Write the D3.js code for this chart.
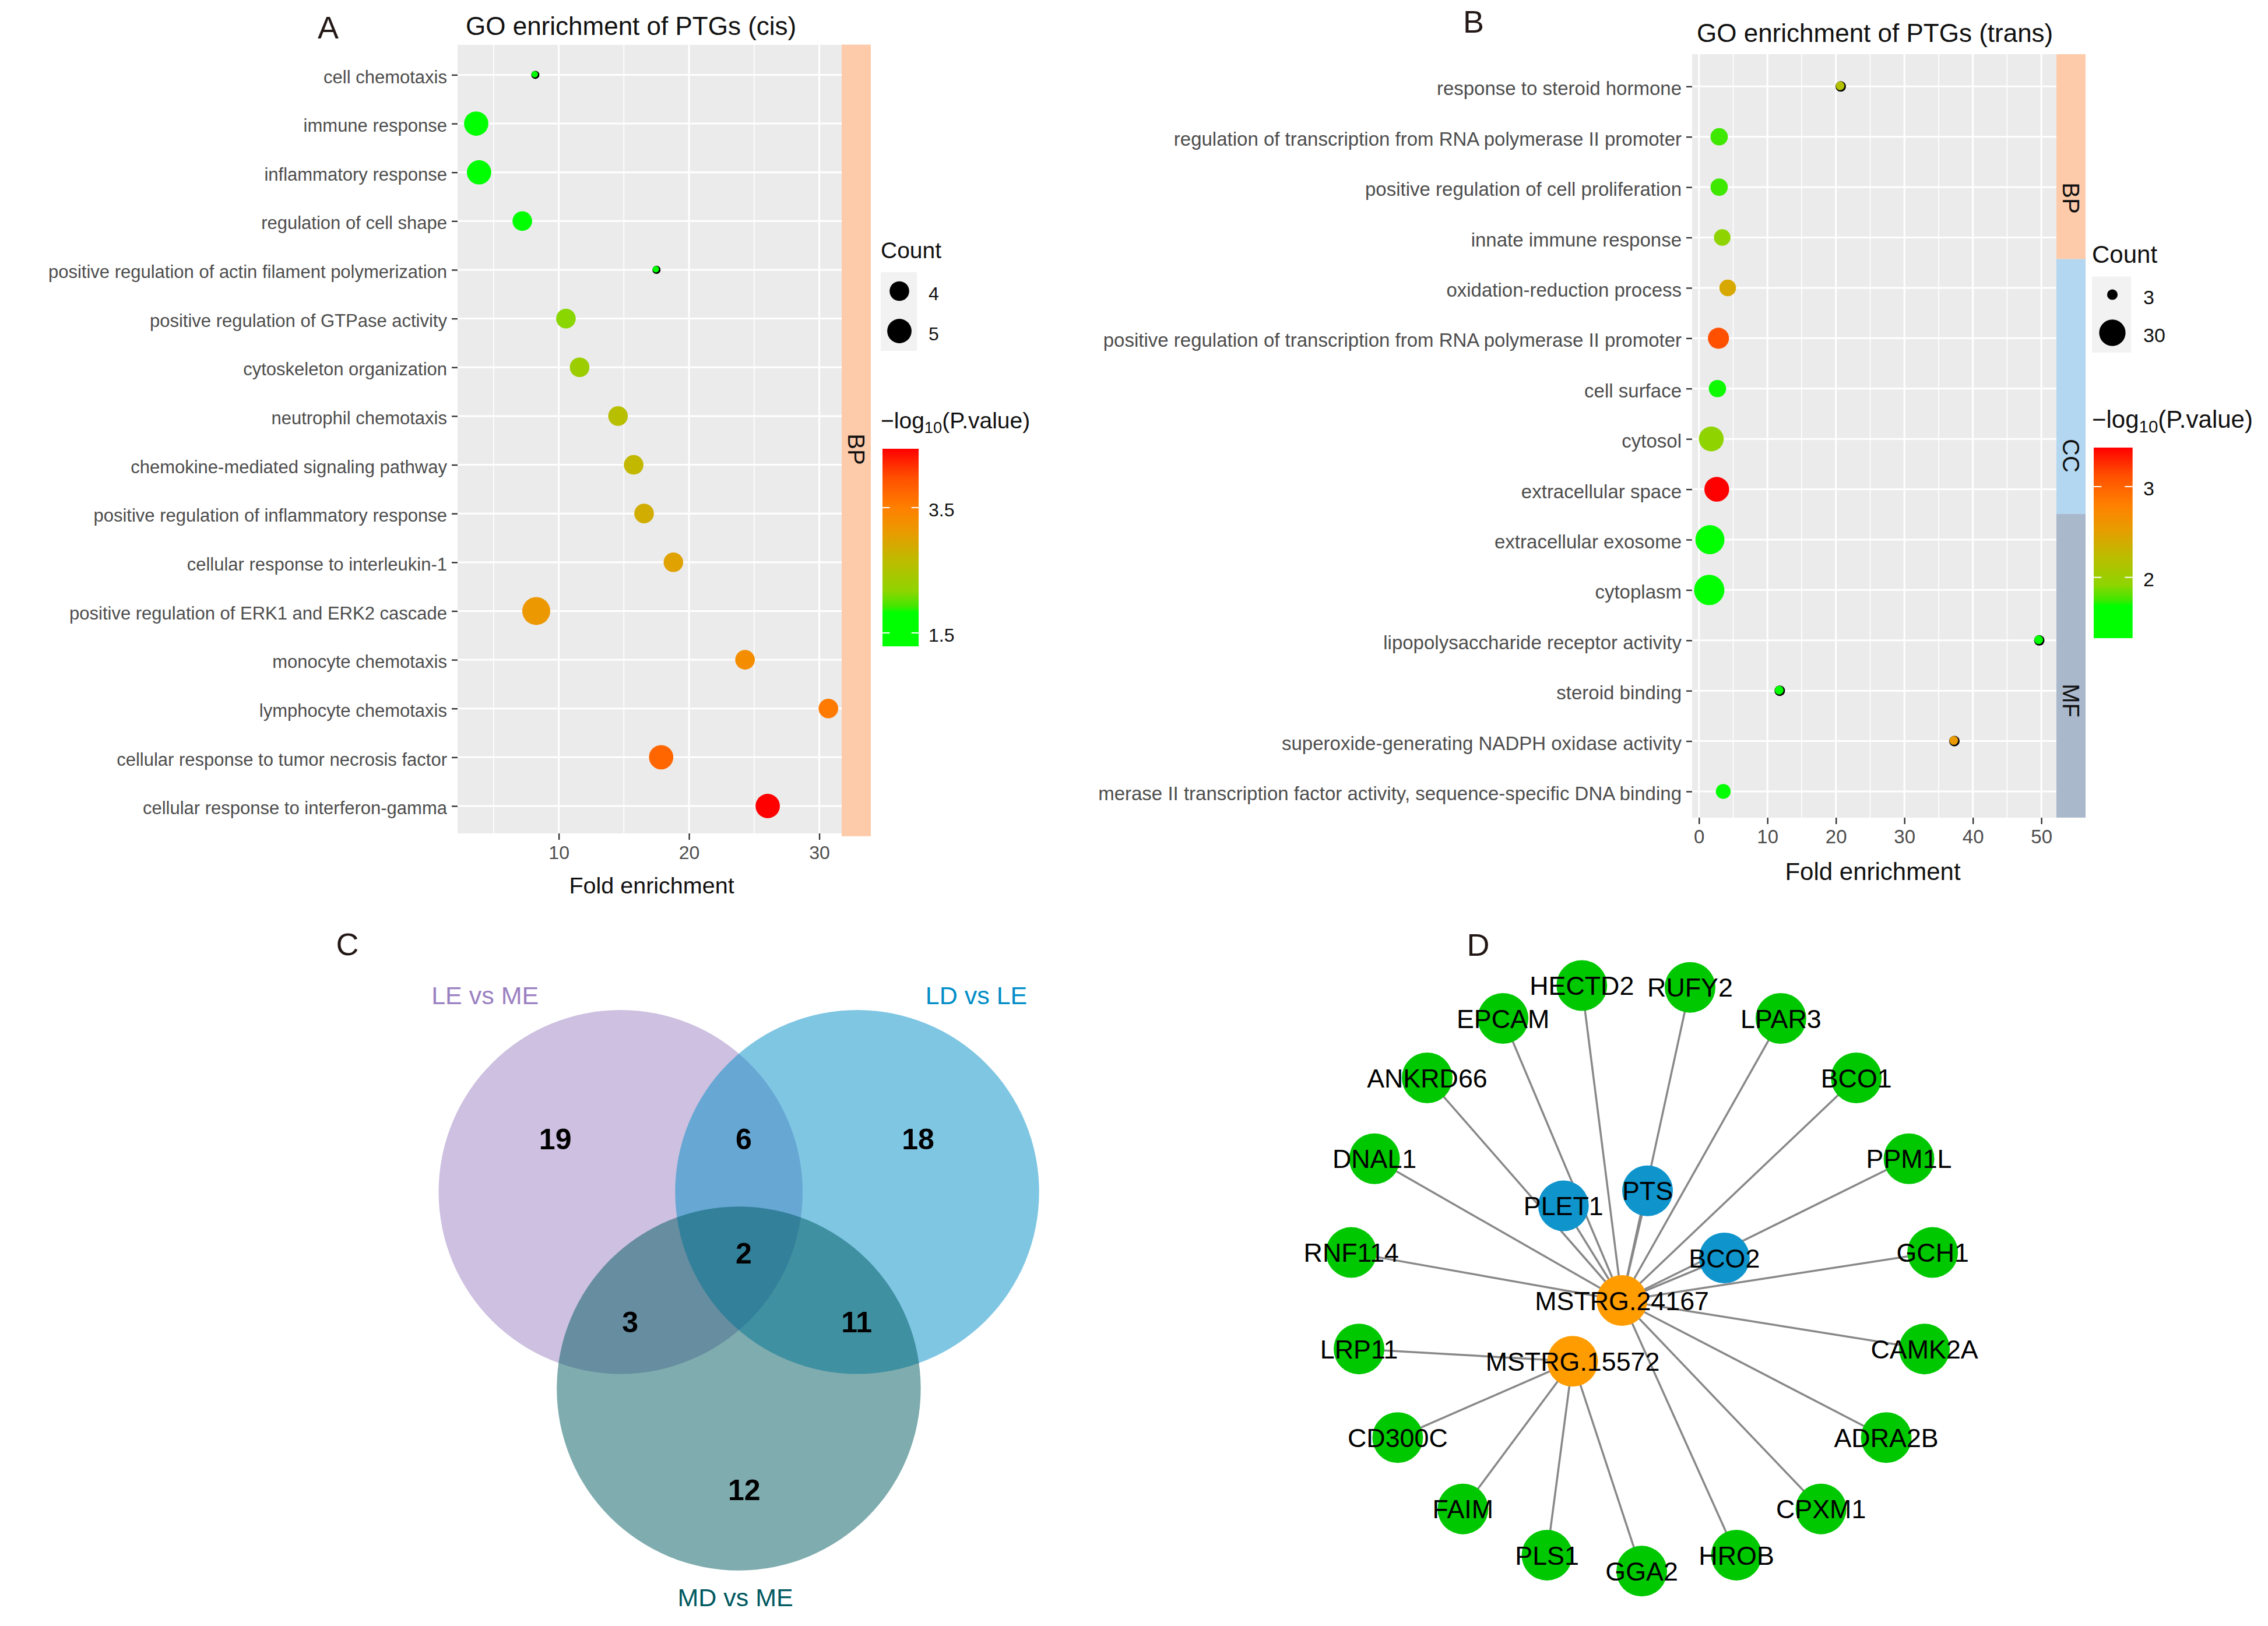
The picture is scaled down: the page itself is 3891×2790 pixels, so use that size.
<!DOCTYPE html>
<html lang="en">
<head>
<meta charset="UTF-8">
<title>GO enrichment of PTGs</title>
<script src="https://d3js.org/d3.v7.min.js"></script>
<style>
  html, body { margin: 0; background: #fff; }
  text { font-family: "Liberation Sans", Arial, sans-serif; }
</style>
</head>
<body>
<div id="chart"></div>
<script>
// panel A
const termsA = ["cell chemotaxis", "immune response", "inflammatory response", "regulation of cell shape",
  "positive regulation of actin filament polymerization", "positive regulation of GTPase activity",
  "cytoskeleton organization", "neutrophil chemotaxis", "chemokine-mediated signaling pathway",
  "positive regulation of inflammatory response", "cellular response to interleukin-1",
  "positive regulation of ERK1 and ERK2 cascade", "monocyte chemotaxis", "lymphocyte chemotaxis",
  "cellular response to tumor necrosis factor", "cellular response to interferon-gamma"];
const foldA = [8.2, 3.66, 3.88, 7.2, 17.5, 10.55, 11.6, 14.55, 15.75, 16.55, 18.8, 8.27, 24.3, 30.7, 17.86, 26.04];
const countA = [3, 5, 5, 4, 3, 4, 4, 4, 4, 4, 4, 6, 4, 4, 5, 5];
const pvalA = [1.7, 1.4, 1.4, 1.75, 1.8, 2.15, 2.3, 2.6, 2.7, 2.85, 3.0, 3.15, 3.3, 3.55, 3.75, 4.44];
const stripsA = [["BP", -0.62, 15.62, 771]];

// panel B
const termsB = ["response to steroid hormone", "regulation of transcription from RNA polymerase II promoter",
  "positive regulation of cell proliferation", "innate immune response", "oxidation-reduction process",
  "positive regulation of transcription from RNA polymerase II promoter", "cell surface", "cytosol",
  "extracellular space", "extracellular exosome", "cytoplasm", "lipopolysaccharide receptor activity",
  "steroid binding", "superoxide-generating NADPH oxidase activity",
  "merase II transcription factor activity, sequence-specific DNA binding"];
const foldB = [20.7, 2.95, 2.95, 3.4, 4.2, 2.85, 2.7, 1.8, 2.6, 1.6, 1.5, 49.7, 11.8, 37.3, 3.55];
const countB = [3, 8, 8, 7, 7, 15, 8, 25, 25, 40, 45, 3, 3, 3, 5];
const pvalB = [2.17, 1.75, 1.75, 1.92, 2.42, 3.12, 1.7, 1.92, 3.43, 1.33, 1.33, 1.5, 1.6, 2.55, 1.6];
const stripsB = [["BP", -0.64, 3.43, 340], ["CC", 3.43, 8.49, 782], ["MF", 8.49, 14.52, 1202]];

// panel C, positions in picture units of a 1568 x 1568 box
const vennNames = ["LE vs ME", "LD vs LE", "MD vs ME"];
const vennX = [632.5, 1087, 859.5];
const vennY = [618.5, 618.5, 1048.5];
const vennR = 398;
const vennLabelX = [372, 1316, 853];
const vennLabelY = [188, 188, 1505];
const vennCounts = [19, 6, 18, 2, 3, 11, 12];
const vennCountX = [507, 869, 1204, 869, 651, 1086, 870];
const vennCountY = [502, 502, 502, 752, 902, 902, 1270];

// panel D, positions in picture units of a 1568 x 1568 box
const geneNames = ["HECTD2", "RUFY2", "EPCAM", "LPAR3", "ANKRD66", "BCO1", "DNAL1", "PPM1L", "RNF114", "GCH1", "LRP11",
  "CAMK2A", "CD300C", "ADRA2B", "FAIM", "CPXM1", "PLS1", "HROB", "GGA2", "PLET1", "PTS", "BCO2", "MSTRG.24167", "MSTRG.15572"];
const geneX = [680, 904, 517, 1092, 360, 1248, 251, 1357, 203, 1406, 219, 1389, 299, 1310, 434, 1175, 608, 1000, 804, 642, 816, 975, 763, 661];
const geneY = [167, 171, 239, 239, 369, 369, 546, 546, 751, 751, 962, 962, 1156, 1156, 1312, 1312, 1413, 1413, 1448, 649, 616, 763, 856, 989];
const geneGroup = ["g", "g", "g", "g", "g", "g", "g", "g", "g", "g", "g", "g", "g", "g", "g", "g", "g", "g", "g", "b", "b", "b", "o", "o"];
const edgesHub1 = ["HECTD2", "RUFY2", "EPCAM", "LPAR3", "ANKRD66", "BCO1", "DNAL1", "PPM1L", "RNF114", "GCH1", "CAMK2A",
  "ADRA2B", "CPXM1", "HROB", "PLET1", "PTS", "BCO2"];
const edgesHub2 = ["LRP11", "CD300C", "FAIM", "PLS1", "GGA2"];

const gradT = [0, 0.17, 0.2, 0.28, 0.43, 0.58, 0.7, 0.855, 1];
const gradC = ["#00ff00", "#00ff00", "#3fe800", "#8fd400", "#bcbc00", "#ea9a00", "#ff8000", "#ff4f00", "#ff0000"];

const svg = d3.select("#chart").append("svg")
  .attr("width", 3891).attr("height", 2790).attr("viewBox", "0 0 3891 2790")
  .style("display", "block");
const defs = svg.append("defs");

function addLetter(s, x, y) {
  svg.append("text").attr("x", x).attr("y", y).attr("text-anchor", "middle").attr("dy", "0.36em")
    .attr("font-size", 54).attr("fill", "#231815").text(s);
}

function dotPanel(o) {
  const g = svg.append("g");
  const x = d3.scaleLinear().domain(o.xDomain).range([o.left, o.right]);
  const y = d3.scalePoint().domain(o.terms).range(o.rowRange);
  const rowPos = d3.scaleLinear().domain([0, o.terms.length - 1]).range(o.rowRange);
  const color = d3.scaleLinear().domain(gradT.map(t => o.pLo + t * (o.pHi - o.pLo))).range(gradC);
  const size = d3.scaleSqrt().domain(o.sizeDomain).range(o.sizeRange);
  const cmin = d3.min(o.count);

  g.append("rect").attr("x", o.left).attr("y", o.top).attr("width", o.right - o.left).attr("height", o.bottom - o.top)
    .attr("fill", "#ebebeb");
  g.selectAll(".minor").data(o.minor).join("line")
    .attr("x1", d => x(d)).attr("x2", d => x(d)).attr("y1", o.top).attr("y2", o.bottom)
    .attr("stroke", "#fff").attr("stroke-width", 1.6);
  g.selectAll(".vmajor").data(o.xTicks).join("line")
    .attr("x1", d => x(d)).attr("x2", d => x(d)).attr("y1", o.top).attr("y2", o.bottom)
    .attr("stroke", "#fff").attr("stroke-width", 3);
  g.selectAll(".hmajor").data(o.terms).join("line")
    .attr("x1", o.left).attr("x2", o.right).attr("y1", d => y(d)).attr("y2", d => y(d))
    .attr("stroke", "#fff").attr("stroke-width", 3);

  // strips on the right of the panel
  g.selectAll(".strip").data(o.strips).join("rect")
    .attr("x", o.right).attr("width", o.stripW)
    .attr("y", d => rowPos(d[1])).attr("height", d => rowPos(d[2]) - rowPos(d[1]))
    .attr("fill", d => ({BP: "#fdcbaa", CC: "#b3d7f0", MF: "#aab8cc"})[d[0]]);
  g.selectAll(".stripLab").data(o.strips).join("text")
    .attr("transform", d => `translate(${o.right + o.stripW / 2},${d[3]}) rotate(90)`)
    .attr("text-anchor", "middle").attr("dy", "0.36em").attr("font-size", 40).attr("fill", "#111")
    .text(d => d[0]);

  const xAxis = g.append("g").attr("transform", `translate(0,${o.bottom})`)
    .call(d3.axisBottom(x).tickValues(o.xTicks).tickSize(11).tickPadding(10));
  const yAxis = g.append("g").attr("transform", `translate(${o.left},0)`)
    .call(d3.axisLeft(y).tickSize(10).tickPadding(o.labPad));
  xAxis.select(".domain").remove();
  yAxis.select(".domain").remove();
  xAxis.selectAll("line").attr("stroke", "#333").attr("stroke-width", 2.4);
  yAxis.selectAll("line").attr("stroke", "#333").attr("stroke-width", 2.4);
  xAxis.selectAll("text").attr("font-size", o.tickFont).attr("fill", "#4d4d4d").attr("font-family", null);
  yAxis.selectAll("text").attr("font-size", o.labFont).attr("fill", "#4d4d4d").attr("font-family", null).attr("dy", "0.44em");

  const rows = o.terms.map((t, i) => ({t, f: o.fold[i], c: o.count[i], p: o.pval[i]}));
  // the smallest dots show a black dot just behind them
  g.selectAll(".back").data(rows.filter(d => d.c === cmin)).join("circle")
    .attr("cx", d => x(d.f)).attr("cy", d => y(d.t)).attr("r", d => size(d.c - cmin))
    .attr("fill", "#000");
  g.selectAll(".dot").data(rows).join("circle")
    .attr("cx", d => x(d.f) - (d.c === cmin ? 1 : 0)).attr("cy", d => y(d.t) - (d.c === cmin ? 1 : 0))
    .attr("r", d => size(d.c - cmin) - (d.c === cmin ? 1.5 : 0))
    .attr("fill", d => color(d.p));

  g.append("text").attr("x", o.titleX).attr("y", o.titleY).attr("dy", "0.36em").attr("font-size", o.titleFont).attr("fill", "#111").text(o.title);
  g.append("text").attr("x", o.xLabX).attr("y", o.xLabY).attr("text-anchor", "middle").attr("dy", "0.36em")
    .attr("font-size", o.xLabFont).attr("fill", "#111").text("Fold enrichment");

  // size legend
  const L = o.legend;
  g.append("text").attr("x", L.x).attr("y", L.countY).attr("font-size", L.titleFont).attr("fill", "#111").text("Count");
  g.append("rect").attr("x", L.x).attr("y", L.keyTop).attr("width", L.keyW).attr("height", L.keyBottom - L.keyTop).attr("fill", "#f2f2f2");
  L.keys.forEach(k => {
    g.append("circle").attr("cx", L.keyX).attr("cy", k.y).attr("r", size(k.c - cmin)).attr("fill", "#000");
    g.append("text").attr("x", L.labX).attr("y", k.y + 4).attr("dy", "0.36em").attr("font-size", L.labFont).attr("fill", "#111").text(k.c);
  });

  // colour bar
  const head = g.append("text").attr("x", L.x).attr("y", L.headY).attr("font-size", L.titleFont).attr("fill", "#111");
  head.append("tspan").text("\u2212log");
  head.append("tspan").attr("font-size", L.titleFont * 0.7).attr("dy", L.titleFont * 0.2).text("10");
  head.append("tspan").attr("dy", -L.titleFont * 0.2).text("(P.value)");

  const gradId = "grad" + o.id;
  defs.append("linearGradient").attr("id", gradId).attr("x1", 0).attr("x2", 0).attr("y1", 1).attr("y2", 0)
    .selectAll("stop").data(gradT).join("stop")
    .attr("offset", d => d).attr("stop-color", (d, i) => gradC[i]);
  const barY = d3.scaleLinear().domain([o.pLo, o.pHi]).range([L.barBottom, L.barTop]);
  g.append("rect").attr("x", L.barX).attr("y", L.barTop).attr("width", L.barW).attr("height", L.barBottom - L.barTop)
    .attr("fill", `url(#${gradId})`);
  const tickLen = L.barW / 5;
  L.ticks.forEach(v => {
    [[L.barX, L.barX + tickLen], [L.barX + L.barW - tickLen, L.barX + L.barW]].forEach(e => {
      g.append("line").attr("x1", e[0]).attr("x2", e[1]).attr("y1", barY(v)).attr("y2", barY(v))
        .attr("stroke", "#fff").attr("stroke-width", 2);
    });
    g.append("text").attr("x", L.labX).attr("y", barY(v) + 3).attr("dy", "0.36em").attr("font-size", L.labFont).attr("fill", "#111").text(v);
  });
}

dotPanel({
  id: "A", terms: termsA, fold: foldA, count: countA, pval: pvalA, strips: stripsA,
  left: 785, right: 1444, top: 77, bottom: 1430, stripW: 50, rowRange: [128.4, 1383],
  xDomain: [2.23, 31.72], xTicks: [10, 20, 30], minor: [5, 15, 25],
  pLo: 1.286, pHi: 4.44, sizeDomain: [0, 3], sizeRange: [7, 24],
  labFont: 31, labPad: 8, tickFont: 32, title: "GO enrichment of PTGs (cis)", titleX: 799, titleY: 44, titleFont: 44,
  xLabX: 1118, xLabY: 1519, xLabFont: 39.5,
  legend: {
    x: 1511, countY: 443, titleFont: 39, keyTop: 467, keyBottom: 602, keyW: 62, keyX: 1543,
    keys: [{c: 4, y: 499.5}, {c: 5, y: 568}], labX: 1593, labFont: 32,
    headY: 735, barX: 1514, barW: 62, barTop: 770, barBottom: 1109, ticks: [1.5, 3.5]
  }
});

dotPanel({
  id: "B", terms: termsB, fold: foldB, count: countB, pval: pvalB, strips: stripsB,
  left: 2903, right: 3528, top: 93, bottom: 1403, stripW: 50, rowRange: [148.3, 1358],
  xDomain: [-1, 52.2], xTicks: [0, 10, 20, 30, 40, 50], minor: [5, 15, 25, 35, 45],
  pLo: 1.33, pHi: 3.43, sizeDomain: [0, 42], sizeRange: [9, 26],
  labFont: 33, labPad: 8, tickFont: 33, title: "GO enrichment of PTGs (trans)", titleX: 2911, titleY: 56, titleFont: 44,
  xLabX: 3213, xLabY: 1495, xLabFont: 42,
  legend: {
    x: 3589, countY: 451, titleFont: 42, keyTop: 474.5, keyBottom: 605, keyW: 67, keyX: 3624,
    keys: [{c: 3, y: 505.6}, {c: 30, y: 571}], labX: 3677, labFont: 34,
    headY: 734, barX: 3592, barW: 66.7, barTop: 768, barBottom: 1095, ticks: [2, 3]
  }
});

addLetter("A", 563, 47);
addLetter("B", 2528, 37);
addLetter("C", 596, 1620);
addLetter("D", 2536, 1621);

// Venn
const vx = d3.scaleLinear().domain([0, 1568]).range([500, 1900]);
const vy = d3.scaleLinear().domain([0, 1568]).range([1560, 2790]);
const vennFill = ["#9b81c1", "#008dc7", "#00595f"];
const vg = svg.append("g");
vg.selectAll("circle").data(vennNames).join("circle")
  .attr("cx", (d, i) => vx(vennX[i])).attr("cy", (d, i) => vy(vennY[i]))
  .attr("r", vy(vennR) - vy(0)).attr("fill", (d, i) => vennFill[i]).attr("fill-opacity", 0.5);
vg.selectAll(".lab").data(vennNames).join("text")
  .attr("x", (d, i) => vx(vennLabelX[i])).attr("y", (d, i) => vy(vennLabelY[i])).attr("dy", "0.36em")
  .attr("text-anchor", "middle").attr("font-size", 43).attr("fill", (d, i) => vennFill[i]).text(d => d);
vg.selectAll(".num").data(vennCounts).join("text")
  .attr("x", (d, i) => vx(vennCountX[i])).attr("y", (d, i) => vy(vennCountY[i])).attr("dy", "0.36em")
  .attr("text-anchor", "middle").attr("font-size", 50).attr("font-weight", "bold").attr("fill", "#000").text(d => d);

// network
const nx = d3.scaleLinear().domain([0, 1568]).range([2150, 3450]);
const ny = d3.scaleLinear().domain([0, 1568]).range([1560, 2790]);
const nodes = geneNames.map((name, i) => ({name, x: nx(geneX[i]), y: ny(geneY[i]), group: geneGroup[i]}));
const nodeBy = new Map(nodes.map(d => [d.name, d]));
const edges = edgesHub1.map(n => ["MSTRG.24167", n]).concat(edgesHub2.map(n => ["MSTRG.15572", n]));
const ng = svg.append("g");
ng.selectAll("line").data(edges).join("line")
  .attr("x1", d => nodeBy.get(d[0]).x).attr("y1", d => nodeBy.get(d[0]).y)
  .attr("x2", d => nodeBy.get(d[1]).x).attr("y2", d => nodeBy.get(d[1]).y)
  .attr("stroke", "#888").attr("stroke-width", 3.5);
ng.selectAll("circle").data(nodes).join("circle")
  .attr("cx", d => d.x).attr("cy", d => d.y).attr("r", 43.5)
  .attr("fill", d => ({g: "#00c800", b: "#0f94cc", o: "#ff9c00"})[d.group]);
ng.selectAll("text").data(nodes).join("text")
  .attr("x", d => d.x).attr("y", d => d.y).attr("dy", "0.36em").attr("text-anchor", "middle")
  .attr("font-size", 44.8).attr("fill", "#000").text(d => d.name);
</script>
</body>
</html>
